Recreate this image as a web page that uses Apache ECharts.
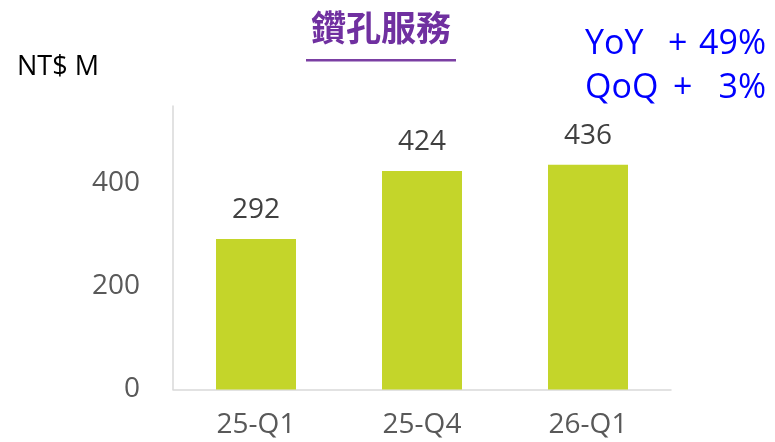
<!DOCTYPE html>
<html>
<head>
<meta charset="utf-8">
<script src="https://cdn.jsdelivr.net/npm/echarts@6/dist/echarts.min.js"></script>
<style>
  html, body { margin: 0; padding: 0; background: #fff; }
  #chart { width: 775px; height: 442px; }
</style>
</head>
<body>
<div id="chart"></div>
<script>
// 季度
var categories = ['25-Q1', '25-Q4', '26-Q1'];
// 鑽孔服務營收 (NT$ M)
var revenue = [292, 424, 436];
// Y轴刻度
var yTicks = [0, 200, 400];

var chart = echarts.init(document.getElementById('chart'));
var font = '"Open Sans", "Noto Sans", sans-serif';

var option = {
  animation: false,
  grid: { left: 173, right: 104, top: 106, bottom: 52.5, containLabel: false, outerBoundsMode: 'none' },
  xAxis: {
    type: 'category',
    data: categories,
    axisLine: { lineStyle: { color: '#d9d9d9', width: 1.5 } },
    axisTick: { show: false },
    axisLabel: { color: '#595959', fontSize: 28, fontFamily: font, margin: 22 }
  },
  yAxis: {
    type: 'value',
    min: 0,
    max: 550,
    interval: 200,
    splitLine: { show: false },
    axisLine: { show: true, lineStyle: { color: '#d9d9d9', width: 1.5 } },
    axisTick: { show: false },
    axisLabel: {
      color: '#595959', fontSize: 28, fontFamily: font, margin: 33,
      showMaxLabel: false,
      formatter: function (v) { return yTicks.indexOf(v) >= 0 ? String(v) : ''; }
    }
  },
  series: [{
    type: 'bar',
    data: revenue,
    barWidth: 80,
    itemStyle: { color: '#c4d52a' },
    label: {
      show: true, position: 'top', distance: 15,
      color: '#404040', fontSize: 28, fontFamily: font
    }
  }],
  graphic: [
    { type: 'text', left: 311, top: 10.5,
      style: { text: '鑽孔服務', fill: '#7030a0', font: 'bold 35px "Noto Sans CJK TC", sans-serif' } },
    { type: 'rect', shape: { x: 306, y: 59, width: 150, height: 2.5 }, style: { fill: '#7b3fa3' } },
    { type: 'text', left: 17, top: 54,
      style: { text: 'NT$ M', fill: '#000', font: '27px ' + font } },
    // YoY / QoQ
    { type: 'text', left: 585, top: 27,
      style: { text: 'YoY', fill: '#0000ff', font: '34px ' + font } },
    { type: 'text', left: 668, top: 27,
      style: { text: '+', fill: '#0000ff', font: '34px ' + font } },
    { type: 'text', right: 9, top: 27,
      style: { text: '49%', fill: '#0000ff', font: '34px ' + font } },
    { type: 'text', left: 585, top: 71,
      style: { text: 'QoQ', fill: '#0000ff', font: '34px ' + font } },
    { type: 'text', left: 673, top: 71,
      style: { text: '+', fill: '#0000ff', font: '34px ' + font } },
    { type: 'text', right: 9, top: 71,
      style: { text: '3%', fill: '#0000ff', font: '34px ' + font } }
  ]
};

chart.setOption(option);
</script>
</body>
</html>
